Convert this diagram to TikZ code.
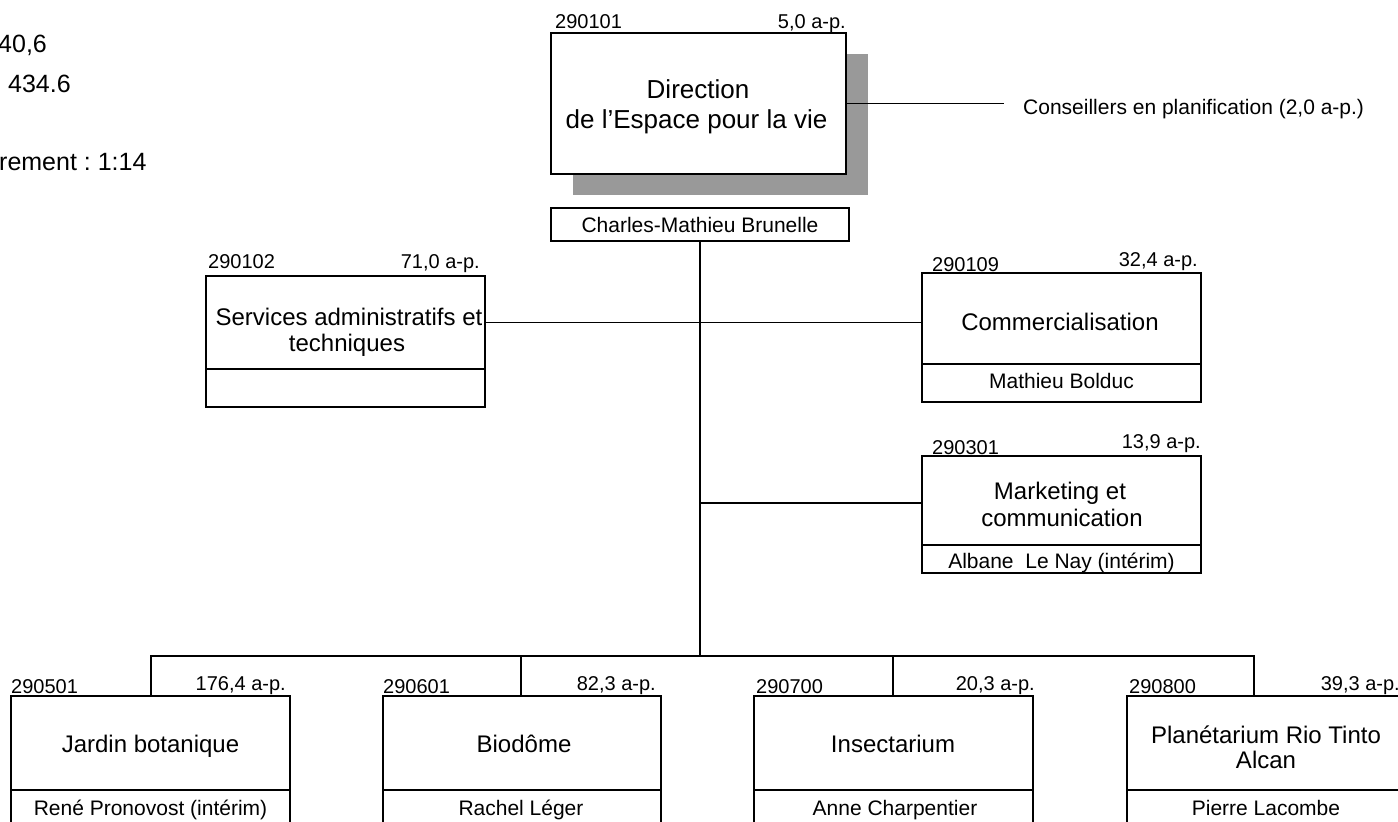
\documentclass[tikz,border=0pt]{standalone}
\usepackage{fontspec}
\setmainfont{Liberation Sans}
\usetikzlibrary{shadows}
\definecolor{shadowgray}{RGB}{153,153,153}
\frenchspacing
\begin{document}
\begin{tikzpicture}[x=1pt,y=-1pt,
  ubox/.style={draw, line width=1.9pt, rectangle, inner sep=0pt, minimum width=279pt},
  conn/.style={draw, line width=1.9pt},
  numlab/.style={inner sep=0pt, font=\fontsize{20}{24}\selectfont},
  maintxt/.style={inner sep=0pt, anchor=base, font=\fontsize{24}{28}\selectfont},
  nametxt/.style={inner sep=0pt, anchor=base, font=\fontsize{21}{25}\selectfont},
  sidetxt/.style={inner sep=0pt, anchor=base west, font=\fontsize{25}{30}\selectfont},
  dirtxt/.style={inner sep=0pt, anchor=base, font=\fontsize{26}{31}\selectfont}]
\useasboundingbox (0,0) rectangle (1398,822);
\clip (0,0) rectangle (1398,822);

% side texts (cut at the left edge)
\node[sidetxt] (s1) at (-2,52.5) {40,6};
\node[sidetxt] (s2) at (8,92.5) {434.6};
\node[sidetxt] (s3) at (-1,170) {rement : 1:14};

% direction
\node[ubox, minimum width=295pt, minimum height=141pt, fill=white,
      drop shadow={shadow xshift=21.5pt, shadow yshift=-21pt, fill=shadowgray, opacity=1}] (dir) at (698.5,103.5) {};
\node[dirtxt] (dirt1) at (698,98) {Direction};
\node[dirtxt] (dirt2) at (696.5,128) {de l’Espace pour la vie};
\node[numlab, anchor=base west] (dirc) at (555,28.3) {290101};
\node[numlab, anchor=base east] (dira) at (846,28.3) {5,0 a-p.};
\node[ubox, minimum width=298pt, minimum height=33pt] (dirn) at (700,224.5) {};
\node[nametxt] (dirnt) at (700,232) {Charles-Mathieu Brunelle};

\coordinate (consend) at (1004,103.5);
\draw[conn] (dir.east) -- (consend);
\node[inner sep=0pt, anchor=base west, font=\fontsize{21}{25}\selectfont] (cons) at (1023,114) {Conseillers en planification (2,0 a-p.)};

% services administratifs
\node[ubox, minimum height=93pt] (svc) at (345.5,322.5) {};
\node[ubox, minimum height=38pt] (svcn) at (345.5,388) {};
\node[maintxt] (svct1) at (349,325) {Services administratifs et};
\node[maintxt] (svct2) at (347,351) {techniques};
\node[numlab, anchor=base west] (svcc) at (208,268) {290102};
\node[numlab, anchor=base east] (svca) at (480,268) {71,0 a-p.};

% commercialisation
\node[ubox, minimum height=91pt] (com) at (1061.5,318.5) {};
\node[ubox, minimum height=38pt] (comn) at (1061.5,383) {};
\node[maintxt] (comt) at (1060,330) {Commercialisation};
\node[nametxt] (comnt) at (1061.5,388.5) {Mathieu Bolduc};
\node[numlab, anchor=base west] (comc) at (932,271.5) {290109};
\node[numlab, anchor=base east] (coma) at (1198,266) {32,4 a-p.};

% marketing
\node[ubox, minimum height=89pt] (mkt) at (1061.5,500.5) {};
\node[ubox, minimum height=28pt] (mktn) at (1061.5,559) {};
\node[maintxt] (mktt1) at (1060,499.5) {Marketing et};
\node[maintxt] (mktt2) at (1062,526.5) {communication};
\node[nametxt] (mktnt) at (1061.5,568.5) {Albane\ \ Le Nay (intérim)};
\node[numlab, anchor=base west] (mktc) at (932,454) {290301};
\node[numlab, anchor=base east] (mkta) at (1201,448.5) {13,9 a-p.};

% jardin botanique
\node[ubox, minimum height=94pt] (jar) at (150.5,743) {};
\node[ubox, minimum height=36pt] (jarn) at (150.5,808) {};
\node[maintxt] (jart) at (150.5,752) {Jardin botanique};
\node[nametxt] (jarnt) at (150.5,815) {René Pronovost (intérim)};
\node[numlab, anchor=base west] (jarc) at (11,693) {290501};
\node[numlab, anchor=base east] (jara) at (286,690) {176,4 a-p.};

% biodome
\node[ubox, minimum width=278pt, minimum height=94pt] (bio) at (522,743) {};
\node[ubox, minimum width=278pt, minimum height=36pt] (bion) at (522,808) {};
\node[maintxt] (biot) at (524,752) {Biodôme};
\node[nametxt] (biont) at (521,815) {Rachel Léger};
\node[numlab, anchor=base west] (bioc) at (383,693) {290601};
\node[numlab, anchor=base east] (bioa) at (656,690) {82,3 a-p.};

% insectarium
\node[ubox, minimum height=94pt] (ins) at (893.5,743) {};
\node[ubox, minimum height=36pt] (insn) at (893.5,808) {};
\node[maintxt] (inst) at (893,752) {Insectarium};
\node[nametxt] (insnt) at (895,815) {Anne Charpentier};
\node[numlab, anchor=base west] (insc) at (756,693) {290700};
\node[numlab, anchor=base east] (insa) at (1035,690) {20,3 a-p.};

% planetarium
\node[ubox, minimum height=94pt] (pla) at (1266.5,743) {};
\node[ubox, minimum height=36pt] (plan) at (1266.5,808) {};
\node[maintxt] (plat1) at (1266,743) {Planétarium Rio Tinto};
\node[maintxt] (plat2) at (1266,768) {Alcan};
\node[nametxt] (plant) at (1266,815) {Pierre Lacombe};
\node[numlab, anchor=base west] (plac) at (1129,693) {290800};
\node[numlab, anchor=base east] (plaa) at (1400,690) {39,3 a-p.};

% connectors
\coordinate (bus) at (700,656);
\draw[conn] (dirn.south) -- (bus);
\draw[conn] (svc.east) -- (svc.east -| com.west);
\coordinate (mj) at (700,503);
\draw[conn] (mj) -- (mj -| mkt.west);
\coordinate (b1) at (151,656);
\coordinate (b2) at (521,656);
\coordinate (b3) at (893,656);
\coordinate (b4) at (1254,656);
\draw[conn] (b1 |- jar.north) -- (b1) -- (b4) -- (b4 |- pla.north);
\draw[conn] (b2) -- (b2 |- bio.north);
\draw[conn] (b3) -- (b3 |- ins.north);
\end{tikzpicture}
\end{document}
